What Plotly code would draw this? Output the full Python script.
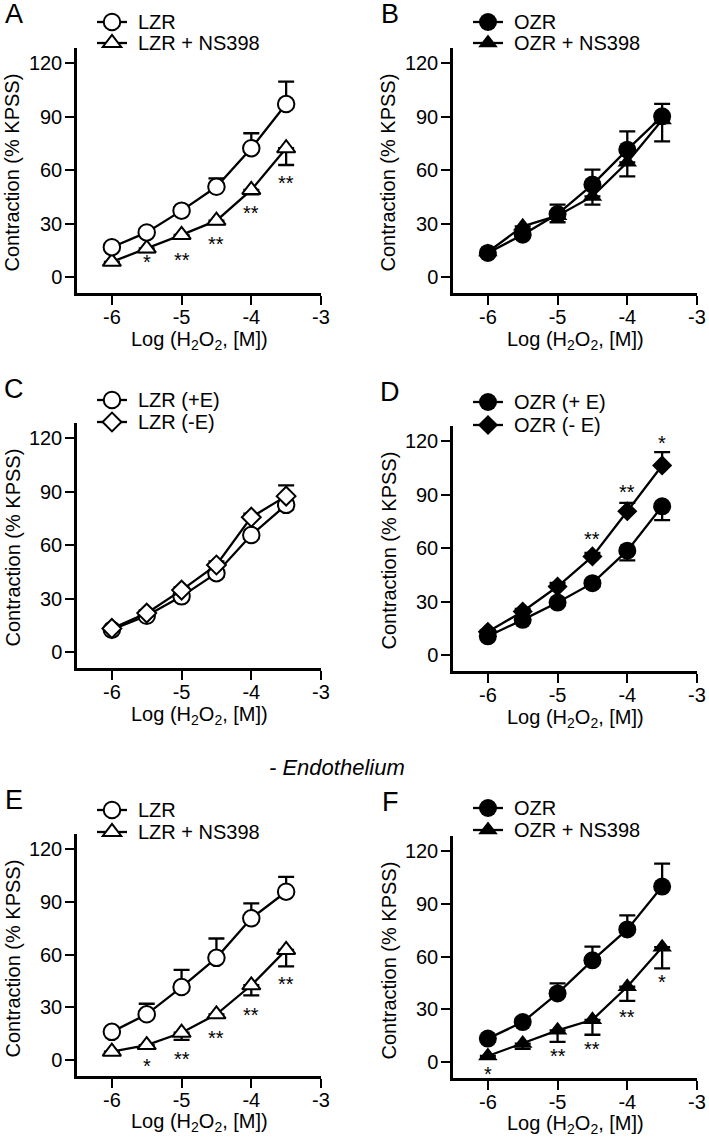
import plotly.graph_objects as go

# ---------------- data ----------------
doses = [-6, -5.5, -5, -4.5, -4, -3.5]
x_ticks = [-6, -5, -4, -3]
y_ticks = [0, 30, 60, 90, 120]

# Panel A
lzr_A = [16.7, 25.0, 37.2, 50.6, 72.2, 97.0]
lzr_A_sem = [2, 2, 2, 4.7, 8.4, 12.5]
lzr_ns_A = [8.5, 16.0, 23.6, 31.6, 48.8, 72.2]
lzr_ns_A_sem = [1.5, 2, 2, 2, 2.5, 9.4]
stars_A = ["", "*", "**", "**", "**", "**"]
stars_A_y = [None, 10.7, 12.0, 20.6, 38.1, 55.0]

# Panel B
ozr_B = [13.5, 23.7, 35.3, 51.8, 71.4, 90.1]
ozr_B_sem = [1.5, 2, 5.3, 8.4, 10.3, 7.0]
ozr_ns_B = [14.0, 28.4, 34.4, 45.2, 64.3, 88.0]
ozr_ns_B_sem = [2, 2, 3.7, 4.6, 7.9, 12.0]

# Panel C
lzr_pE_C = [12.5, 20.3, 31.2, 44.2, 65.6, 82.5]
lzr_pE_C_sem = [1, 1.5, 1.5, 2, 2, 2.5]
lzr_mE_C = [13.2, 21.8, 34.7, 48.8, 75.6, 87.4]
lzr_mE_C_sem = [1, 1.5, 1.5, 2, 2, 6.0]

# Panel D
ozr_pE_D = [10.5, 19.7, 29.4, 40.3, 58.5, 83.4]
ozr_pE_D_sem = [1, 1.5, 1.5, 2, 5.4, 7.8]
ozr_mE_D = [13.0, 24.4, 38.4, 55.3, 80.6, 106.3]
ozr_mE_D_sem = [1, 1.5, 2, 2, 4.7, 7.5]
stars_D = ["", "", "", "**", "**", "*"]
stars_D_y = [None, None, None, 67.5, 93.8, 121.0]

# Panel E
lzr_E = [16.0, 26.0, 41.5, 58.1, 80.6, 95.7]
lzr_E_sem = [1.5, 6.0, 9.8, 11.0, 8.5, 8.5]
lzr_ns_E = [4.7, 8.5, 15.5, 26.0, 42.5, 62.6]
lzr_ns_E_sem = [1, 1.5, 4.0, 2, 5.7, 9.4]
stars_E = ["", "*", "**", "**", "**", "**"]
stars_E_y = [None, -1.0, 2.8, 15.0, 27.7, 45.7]

# Panel F
ozr_F = [13.3, 22.7, 39.0, 57.8, 75.4, 99.8]
ozr_F_sem = [1.5, 2, 5.7, 7.8, 8.0, 13.0]
ozr_ns_F = [3.4, 10.5, 18.0, 24.0, 42.8, 65.3]
ozr_ns_F_sem = [1.5, 3.0, 6.5, 8.5, 8.0, 12.0]
stars_F = ["*", "", "**", "**", "**", "*"]
stars_F_y = [-4.7, None, 5.6, 9.4, 27.8, 47.5]

x_title = "Log (H<sub>2</sub>O<sub>2</sub>, [M])"
y_title = "Contraction (% KPSS)"
section_label = "- Endothelium"

# ---------------- styling / layout ----------------
W, H = 709, 1137
FONT = "Arial, 'Liberation Sans', Helvetica, sans-serif"
FS = 20
LW = 2.3
Y_MIN, Y_MAX = -9, 128.5
X_MIN, X_MAX = -6.5, -3

SYM = {
    "circle_open": dict(symbol="circle", size=16.5, color="white", line=dict(color="black", width=2)),
    "circle_fill": dict(symbol="circle", size=18, color="black", line=dict(color="black", width=0)),
    "tri_open": dict(symbol="triangle-up", size=16, color="white", line=dict(color="black", width=2)),
    "tri_fill": dict(symbol="triangle-up", size=17, color="black", line=dict(color="black", width=0)),
    "dia_open": dict(symbol="diamond", size=14.5, color="white", line=dict(color="black", width=2)),
    "dia_fill": dict(symbol="diamond", size=15.5, color="black", line=dict(color="black", width=0)),
}

panels = [
    dict(letter="A", col=0, y120=63, y0=277,
         legend=[("LZR", "circle_open"), ("LZR + NS398", "tri_open")],
         series=[("LZR + NS398", lzr_ns_A, lzr_ns_A_sem, "down", "tri_open"),
                 ("LZR", lzr_A, lzr_A_sem, "up", "circle_open")],
         stars=(stars_A, stars_A_y), leg_y=(22, 43)),
    dict(letter="B", col=1, y120=63, y0=277,
         legend=[("OZR", "circle_fill"), ("OZR + NS398", "tri_fill")],
         series=[("OZR + NS398", ozr_ns_B, ozr_ns_B_sem, "down", "tri_fill"),
                 ("OZR", ozr_B, ozr_B_sem, "up", "circle_fill")],
         stars=None, leg_y=(22, 43)),
    dict(letter="C", col=0, y120=438, y0=652,
         legend=[("LZR (+E)", "circle_open"), ("LZR (-E)", "dia_open")],
         series=[("LZR (+E)", lzr_pE_C, lzr_pE_C_sem, "down", "circle_open"),
                 ("LZR (-E)", lzr_mE_C, lzr_mE_C_sem, "up", "dia_open")],
         stars=None, leg_y=(400, 422)),
    dict(letter="D", col=1, y120=441, y0=655,
         legend=[("OZR (+ E)", "circle_fill"), ("OZR (- E)", "dia_fill")],
         series=[("OZR (+ E)", ozr_pE_D, ozr_pE_D_sem, "down", "circle_fill"),
                 ("OZR (- E)", ozr_mE_D, ozr_mE_D_sem, "up", "dia_fill")],
         stars=(stars_D, stars_D_y), leg_y=(402, 425)),
    dict(letter="E", col=0, y120=849, y0=1060,
         legend=[("LZR", "circle_open"), ("LZR + NS398", "tri_open")],
         series=[("LZR + NS398", lzr_ns_E, lzr_ns_E_sem, "down", "tri_open"),
                 ("LZR", lzr_E, lzr_E_sem, "up", "circle_open")],
         stars=(stars_E, stars_E_y), leg_y=(810, 832)),
    dict(letter="F", col=1, y120=851, y0=1062,
         legend=[("OZR", "circle_fill"), ("OZR + NS398", "tri_fill")],
         series=[("OZR + NS398", ozr_ns_F, ozr_ns_F_sem, "down", "tri_fill"),
                 ("OZR", ozr_F, ozr_F_sem, "up", "circle_fill")],
         stars=(stars_F, stars_F_y), leg_y=(808, 830)),
]

COL_AXIS_X = [77, 453]     # pixel x of y-axis line
COL_AXIS_END = [321, 697]  # pixel x of x = -3

fig = go.Figure()
annotations = []
shapes = []
layout_axes = {}


def px_x(p):
    return p / W


def px_y(p):
    return 1 - p / H


for i, P in enumerate(panels, start=1):
    xa = "x" if i == 1 else f"x{i}"
    ya = "y" if i == 1 else f"y{i}"
    s = (P["y0"] - P["y120"]) / 120.0
    top = P["y120"] - (Y_MAX - 120) * s
    bot = P["y0"] - Y_MIN * s
    ax_l = COL_AXIS_X[P["col"]]
    ax_r = COL_AXIS_END[P["col"]]
    ax_common = dict(showgrid=False, zeroline=False, showline=True, linecolor="black",
                     linewidth=2.5, ticks="outside", ticklen=9, tickwidth=2.3,
                     tickcolor="black", automargin=False, ticklabeloverflow="allow",
                     tickfont=dict(family=FONT, size=FS, color="black"))
    layout_axes["xaxis" if i == 1 else f"xaxis{i}"] = dict(
        ax_common, domain=[px_x(ax_l), px_x(ax_r)], range=[X_MIN, X_MAX],
        tickvals=x_ticks, ticktext=[str(v) for v in x_ticks], anchor=ya,
        ticklabelstandoff=-5)
    layout_axes["yaxis" if i == 1 else f"yaxis{i}"] = dict(
        ax_common, domain=[px_y(bot), px_y(top)], range=[Y_MIN, Y_MAX],
        tickvals=y_ticks, anchor=xa, ticklabelstandoff=-1)

    for name, vals, sem, direction, sk in P["series"]:
        zeros = [0] * len(sem)
        err = dict(type="data", symmetric=False,
                   array=sem if direction == "up" else zeros,
                   arrayminus=sem if direction == "down" else zeros,
                   color="black", thickness=LW, width=8)
        fig.add_trace(go.Scatter(x=doses, y=vals, name=name, mode="lines+markers",
                                 line=dict(color="black", width=LW),
                                 marker=SYM[sk], error_y=err, showlegend=False,
                                 cliponaxis=False, xaxis=xa, yaxis=ya))

    if P["stars"]:
        labels, ys = P["stars"]
        for d, lab, yv in zip(doses, labels, ys):
            if lab:
                annotations.append(dict(x=d, y=yv, xref=xa, yref=ya, text=lab,
                                        showarrow=False, yshift=-4,
                                        font=dict(family=FONT, size=FS, color="black")))

    # axis titles
    annotations.append(dict(x=px_x((ax_l + ax_r) / 2), y=px_y(bot + 47), xref="paper", yref="paper",
                            text=x_title, showarrow=False, xanchor="center", yanchor="middle",
                            font=dict(family=FONT, size=FS, color="black")))
    annotations.append(dict(x=px_x(ax_l - 65), y=px_y(P["y120"] + 109.5), xref="paper", yref="paper",
                            text=y_title, showarrow=False, textangle=-90,
                            xanchor="center", yanchor="middle",
                            font=dict(family=FONT, size=FS, color="black")))
    # panel letter
    annotations.append(dict(x=px_x(ax_l - 63), y=px_y(P["y120"] - 49), xref="paper", yref="paper",
                            text=P["letter"], showarrow=False, xanchor="center", yanchor="middle",
                            font=dict(family=FONT, size=27, color="black")))

    # legend keys
    mx = ax_l + 35
    for (lab, sk), ly in zip(P["legend"], P["leg_y"]):
        shapes.append(dict(type="line", xref="paper", yref="paper",
                           x0=px_x(mx - 15), x1=px_x(mx + 15), y0=px_y(ly), y1=px_y(ly),
                           line=dict(color="black", width=LW)))
        m = SYM[sk]
        fill = m["color"]
        lw = m["line"]["width"]
        base = dict(xref="paper", yref="paper", xsizemode="pixel", ysizemode="pixel",
                    xanchor=px_x(mx), yanchor=px_y(ly), fillcolor=fill,
                    line=dict(color="black", width=lw if lw > 0 else 0.01))
        sz = m["size"]
        if m["symbol"] == "circle":
            r = sz / 2
            shapes.append(dict(base, type="circle", x0=-r, x1=r, y0=-r, y1=r))
        elif m["symbol"] == "triangle-up":
            r = sz / 2
            rt = r * 2 / 3 ** 0.5
            shapes.append(dict(base, type="path",
                               path=f"M{-rt},{-r/2} L{rt},{-r/2} L0,{r} Z"))
        else:
            rd = sz / 2 * 1.3
            shapes.append(dict(base, type="path",
                               path=f"M{rd},0 L0,{rd} L{-rd},0 L0,{-rd} Z"))
        annotations.append(dict(x=px_x(mx + 24), y=px_y(ly), xref="paper", yref="paper",
                                text=lab, showarrow=False, xanchor="left", yanchor="middle",
                                font=dict(family=FONT, size=FS, color="black")))

annotations.append(dict(x=px_x(337), y=px_y(767), xref="paper", yref="paper",
                        text=f"<i>{section_label}</i>", showarrow=False,
                        xanchor="center", yanchor="middle",
                        font=dict(family=FONT, size=22, color="black")))

fig.update_layout(width=W, height=H, margin=dict(l=0, r=0, t=0, b=0),
                  paper_bgcolor="white", plot_bgcolor="white", showlegend=False,
                  annotations=annotations, shapes=shapes, **layout_axes)

fig.write_html("out.html", config={"displayModeBar": False},
               post_script="document.body.style.margin='0';document.body.style.overflow='hidden';")
